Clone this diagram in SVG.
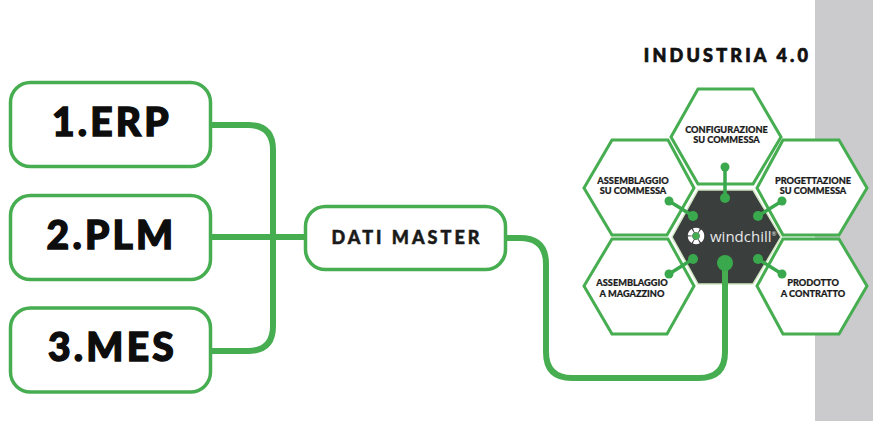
<svg xmlns="http://www.w3.org/2000/svg" width="873" height="421" viewBox="0 0 873 421">
<style>
.box{fill:#fff;stroke:#46ad50;stroke-width:3.5}
.hex{fill:#fff;stroke:#46ad50;stroke-width:3;stroke-linejoin:miter}
.wire{fill:none;stroke:#46ad50;stroke-width:6}
.spoke{fill:none;stroke:#3aa84c;stroke-width:3.5}
.dot{fill:#3aa84c}
.big{font-family:"Lato","Liberation Sans",sans-serif;font-weight:900;font-size:39px;letter-spacing:3.2px;fill:#0d0d0d;stroke:#0d0d0d;stroke-width:1.4;text-anchor:middle}
.mid{font-family:"Lato","Liberation Sans",sans-serif;font-weight:900;font-size:18px;letter-spacing:3px;fill:#1a1a1a;stroke:#1a1a1a;stroke-width:.5;text-anchor:middle}
.title{font-family:"Lato","Liberation Sans",sans-serif;font-weight:900;font-size:18px;letter-spacing:3.2px;fill:#111;stroke:#111;stroke-width:.7;text-anchor:middle}
.small{font-family:"Lato","Liberation Sans",sans-serif;font-weight:900;font-size:9.2px;fill:#1a1a1a;stroke:#1a1a1a;stroke-width:.2;text-anchor:middle}
.wc{font-family:"Open Sans","Liberation Sans",sans-serif;font-size:15px;fill:#e8e8e8}
</style>
<rect x="815" y="0" width="58" height="421" fill="#cbcbcd"/>
<g id="node-erp"><rect class="box" x="10.500" y="82.500" width="200" height="84" rx="20"/><text class="big" x="112" y="136">1.ERP</text></g>
<g id="node-plm"><rect class="box" x="10.500" y="195.500" width="200" height="84" rx="20"/><text class="big" x="111.500" y="249">2.PLM</text></g>
<g id="node-mes"><rect class="box" x="10.500" y="308" width="200" height="84" rx="20"/><text class="big" x="112.500" y="361">3.MES</text></g>
<g id="node-dati"><rect class="box" x="305.500" y="206.500" width="200" height="63" rx="20"/><text class="mid" x="407" y="244">DATI MASTER</text></g>
<g id="node-title"><text class="title" x="727.500" y="62">INDUSTRIA 4.0</text></g>
<g id="node-configurazione"><polygon class="hex" points="671,137 698,89 753,89 781,137 753,184 698,184"/><text class="small" x="726.500" y="133">CONFIGURAZIONE</text><text class="small" x="726.500" y="142.500">SU COMMESSA</text></g>
<g id="node-assemblaggio-commessa"><polygon class="hex" points="584,188 612,140 668,140 694,188 667,235 612,235"/><text class="small" x="633" y="184">ASSEMBLAGGIO</text><text class="small" x="633" y="194">SU COMMESSA</text></g>
<g id="node-progettazione"><polygon class="hex" points="757,188 783,140 839,140 867,188 839,235 783,235"/><text class="small" x="813" y="184">PROGETTAZIONE</text><text class="small" x="813" y="194">SU COMMESSA</text></g>
<g id="node-assemblaggio-magazzino"><polygon class="hex" points="584,286 612,239 668,239 694,286 667,334 612,334"/><text class="small" x="632" y="286">ASSEMBLAGGIO</text><text class="small" x="632" y="297">A MAGAZZINO</text></g>
<g id="node-prodotto"><polygon class="hex" points="757,286 783,239 839,239 867,286 839,334 783,334"/><text class="small" x="813" y="286">PRODOTTO</text><text class="small" x="813" y="297">A CONTRATTO</text></g>
<g id="node-windchill">
<polygon points="672,237 698,190 753,190 781,237 753,284 698,284" fill="#3a3e3d" stroke="#cfe6c0" stroke-width="1.500"/>
<circle cx="696" cy="236" r="6" fill="none" stroke="#fff" stroke-width="4.500" stroke-dasharray="5.300 1"/>
<circle cx="696" cy="236" r="3.500" fill="#46ad50"/>
<text class="wc" x="710" y="241.500">windchill<tspan font-size="6" dy="-6">®</tspan></text>
</g>
<g id="connectors">
<path class="wire" d="M211 125H248Q273 125 273 150V326Q273 351 248 351H211"/>
<path class="wire" d="M211 237H305"/>
<path class="wire" d="M507 238H520Q546 238 546 264V352Q546 378 572 378H699Q725 378 725 352V263"/>
<path class="spoke" d="M725 167V198M669 201L693 216M782 201L758 216M669 274L693 259M782 274L758 259"/>
<circle class="dot" cx="725" cy="167" r="4.500"/><circle class="dot" cx="725" cy="198" r="5"/>
<circle class="dot" cx="669" cy="201" r="4.500"/><circle class="dot" cx="693" cy="216" r="5"/>
<circle class="dot" cx="782" cy="201" r="4.500"/><circle class="dot" cx="758" cy="216" r="5"/>
<circle class="dot" cx="669" cy="274" r="4.500"/><circle class="dot" cx="693" cy="259" r="5"/>
<circle class="dot" cx="782" cy="274" r="4.500"/><circle class="dot" cx="758" cy="259" r="5"/>
<circle class="dot" cx="725" cy="263" r="8"/>
</g>
</svg>
